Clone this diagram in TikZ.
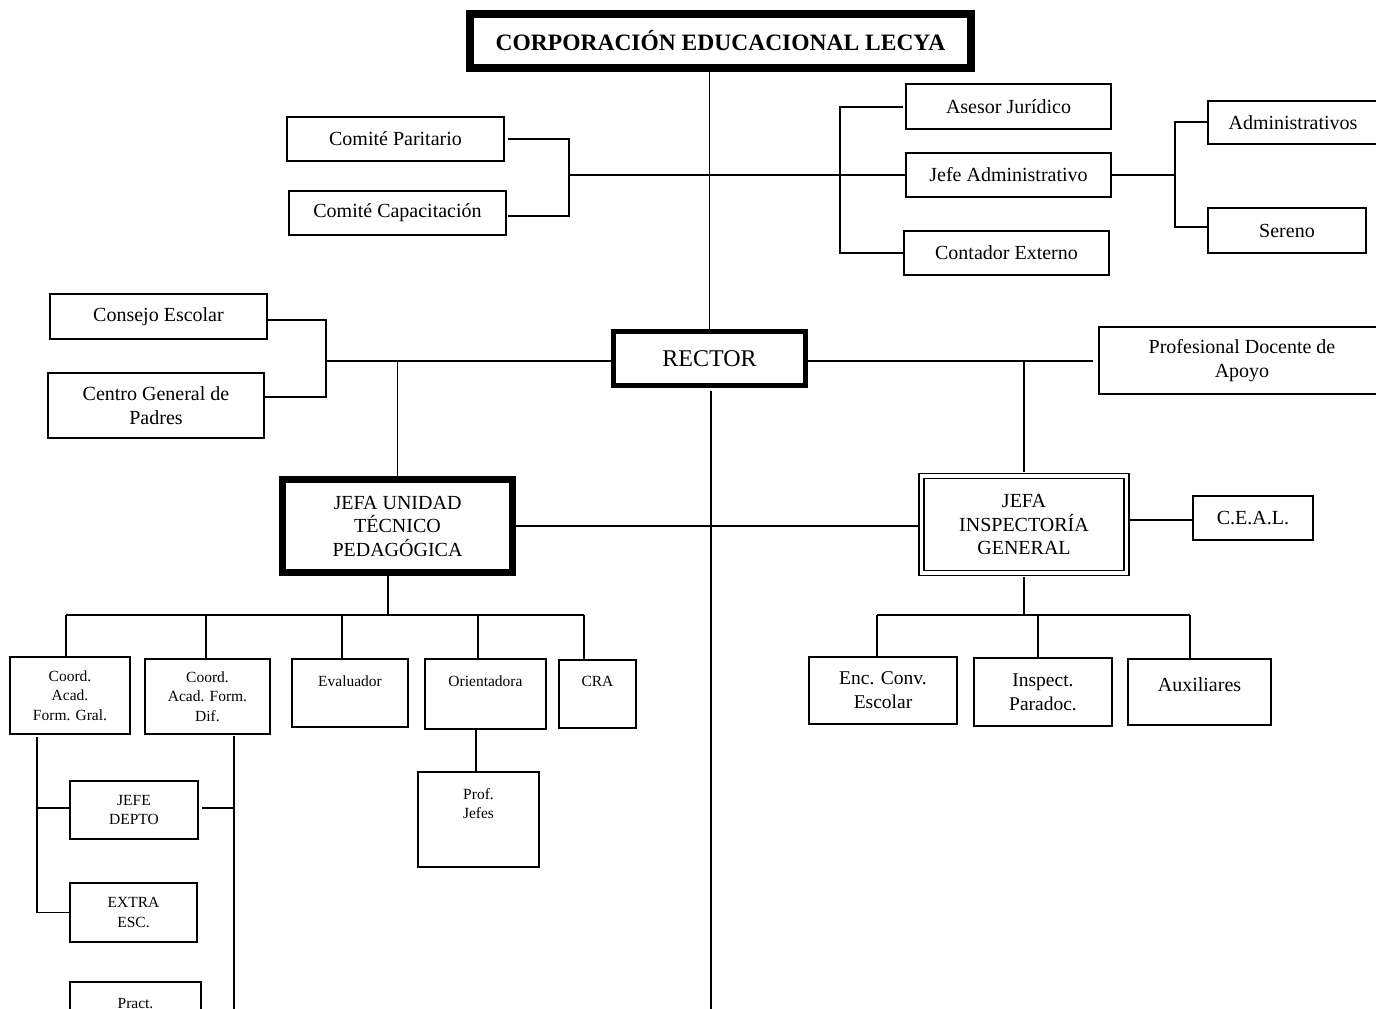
\documentclass[tikz,border=0pt]{standalone}
\usepackage{fontspec}
\setmainfont{Liberation Serif}
\usetikzlibrary{calc}
\newcommand{\fsz}[2]{\fontsize{#1}{#2}\selectfont}
\newcommand{\mybox}[7][]{%
 \pgfmathsetmacro\mybw{#5-#3}\pgfmathsetmacro\mybh{#6-#4}%
 \pgfmathsetmacro\mycx{(#3+#5)/2}\pgfmathsetmacro\mycy{(#4+#6)/2}%
 \node[box,minimum width=\mybw pt,minimum height=\mybh pt,#1] (#2) at (\mycx,\mycy) {#7};}
\tikzset{
 box/.style={draw, line width=1.8pt, inner sep=0pt, align=center, font=\fsz{20}{23.5}},
 small/.style={font=\fsz{15.5}{19.5}},
 mid/.style={font=\fsz{19.5}{24}},
 txt/.style={inner sep=0pt, align=center, anchor=north},
 ln/.style={line width=1.8pt}
}
\begin{document}
\begin{tikzpicture}[x=1pt,y=-1pt]
\useasboundingbox[fill=white] (0,0) rectangle (1376,1009);

% main boxes
\node[box, line width=8pt, minimum width=501pt, minimum height=54pt, font=\bfseries\fsz{23.5}{28}] (title) at (720.5,41) {CORPORACIÓN EDUCACIONAL LECYA};
\node[box, line width=5pt, minimum width=192pt, minimum height=54pt, font=\fsz{24}{28}] (rector) at (709.5,358.5) {RECTOR};
\node[box, line width=6.5pt, minimum width=230pt, minimum height=93pt] (utp) at (397.5,526) {JEFA UNIDAD\\TÉCNICO\\PEDAGÓGICA};
\node[box, double, line width=1.6pt, double distance=3.4pt, outer sep=4pt, minimum width=204.5pt, minimum height=97pt] (jig) at (1024,524.5) {JEFA\\INSPECTORÍA\\GENERAL};

% top level boxes
\mybox{cp}{287}{117}{504}{161}{Comité Paritario}
\mybox{cc}{289}{191}{506}{235}{Comité Capacitación}
\mybox{aj}{906}{84}{1111}{129}{Asesor Jurídico}
\mybox{ja}{906}{153}{1111}{197}{Jefe Administrativo}
\mybox{ce}{904}{231}{1109}{275}{Contador Externo}
\mybox{adm}{1208}{101}{1378}{144}{Administrativos}
\mybox{ser}{1208}{208}{1366}{253}{Sereno}
\mybox{ces}{50}{294}{267}{339}{Consejo Escolar}
\mybox{cgp}{48}{373}{264}{438}{Centro General de\\Padres}
\mybox{pda}{1099}{327}{1385}{394}{Profesional Docente de\\Apoyo}
\mybox{ceal}{1193}{496}{1313}{540}{C.E.A.L.}

% inspectoria children
\mybox[mid]{ecs}{809}{657}{957}{724}{Enc. Conv.\\Escolar}
\mybox[mid]{ipd}{974}{658}{1112}{726}{Inspect.\\Paradoc.}
\mybox{aux}{1128}{659}{1271}{725}{}
\node[txt, font=\fsz{20}{24}] (aux-t) at (aux.north |- 0,677) {Auxiliares};

% UTP children
\mybox[small]{cag}{10}{657}{130}{734}{Coord.\\Acad.\\Form. Gral.}
\mybox[small]{cad}{145}{659}{270}{734}{Coord.\\Acad. Form.\\Dif.}
\mybox{ev}{292}{659}{408}{727}{}
\mybox{ori}{425}{659}{546}{729}{}
\mybox{cra}{559}{660}{636}{728}{}
\node[txt, small] (ev-t) at (ev.north |- 0,676) {Evaluador};
\node[txt, small] (ori-t) at (ori.north |- 0,676) {Orientadora};
\node[txt, small] (cra-t) at (cra.north |- 0,676) {CRA};
\mybox[small]{jd}{70}{781}{198}{839}{JEFE\\DEPTO}
\mybox[small]{ex}{70}{883}{197}{942}{EXTRA\\ESC.}
\mybox{pr}{70}{982}{201}{1040}{}
\node[txt, small] (pr-t) at (pr.north |- 0,998) {Pract.};
\mybox{pj}{418}{772}{539}{867}{}
\node[txt, small] (pj-t) at (pj.north |- 0,788) {Prof.\\Jefes};

% connectors: title -> rector
\draw[ln] (rector.north |- title.south) -- (rector.north);

% top horizontal with brackets
\coordinate (lbT) at (569,139);
\coordinate (lbB) at (569,216);
\coordinate (lbM) at (569,175);
\coordinate (rbT) at (840,107);
\coordinate (rbB) at (840,253);
\coordinate (rbM) at (840,175);
\draw[ln] ([xshift=3pt]cp.east |- lbT) -- (lbT) -- (lbB) -- ([xshift=1pt]cc.east |- lbB);
\draw[ln] (lbM) -- (rbM);
\draw[ln] ([xshift=-2pt]aj.west |- rbT) -- (rbT) -- (rbB) -- (ce.west |- rbB);
\draw[ln] (rbM) -- (ja.west |- rbM);
\coordinate (sbT) at (1175,122);
\coordinate (sbB) at (1175,227);
\coordinate (sbM) at (1175,175);
\draw[ln] (ja.east) -- (sbM);
\draw[ln] (adm.west |- sbT) -- (sbT) -- (sbB) -- (ser.west |- sbB);

% left of rector
\coordinate (cbT) at (326,320);
\coordinate (cbB) at (326,397);
\coordinate (cbM) at (326,361);
\draw[ln] (ces.east |- cbT) -- (cbT) -- (cbB) -- (cgp.east |- cbB);
\draw[ln] (cbM) -- (rector.west |- cbM);
\draw[ln] (cbM -| utp.north) -- (utp.north);

% right of rector
\coordinate (rr) at (1024,361);
\draw[ln] (rector.east |- rr) -- ([xshift=-5pt]pda.west |- rr);
\draw[ln] (rr) -- (jig.north);
\draw[ln] (utp.east) -- (utp.east -| jig.west);
\draw[ln] (jig.east |- 0,520) -- (ceal.west |- 0,520);

% rector downward line
\coordinate (rdn) at (711,1015);
\draw[ln] ([yshift=-3pt]rdn |- rector.south) -- (rdn);

% inspectoria children
\coordinate (g1) at (877,615);
\coordinate (g2) at (1038,615);
\coordinate (g3) at (1190,615);
\draw[ln] (jig.south) -- (jig.south |- g1);
\draw[ln] (g1) -- (g3);
\draw[ln] (g1) -- (g1 |- ecs.north);
\draw[ln] (g2) -- (g2 |- ipd.north);
\draw[ln] (g3) -- (g3 |- aux.north);

% UTP children
\coordinate (um) at (388,615);
\coordinate (u1) at (66,615);
\coordinate (u2) at (206,615);
\coordinate (u3) at (342,615);
\coordinate (u4) at (478,615);
\coordinate (u5) at (584,615);
\draw[ln] (um |- utp.south) -- (um);
\draw[ln] (u1) -- (u5);
\draw[ln] (u1) -- (u1 |- cag.north);
\draw[ln] (u2) -- (u2 |- cad.north);
\draw[ln] (u3) -- (u3 |- ev.north);
\draw[ln] (u4) -- (u4 |- ori.north);
\draw[ln] (u5) -- (u5 |- cra.north);

% coordination chains
\coordinate (lv) at (37,913);
\draw[ln] ([yshift=-2pt]lv |- cag.south) -- (lv);
\draw[ln] (lv |- 0,808) -- (jd.west |- 0,808);
\draw[ln] (lv |- ex.west) -- (ex.west);
\coordinate (rv) at (234,1015);
\draw[ln] ([yshift=-1pt]rv |- cad.south) -- (rv);
\draw[ln] ([xshift=3pt]jd.east |- 0,808) -- (rv |- 0,808);
\coordinate (ov) at (476,0);
\draw[ln] (ov |- ori.south) -- (ov |- pj.north);
\end{tikzpicture}
\end{document}
